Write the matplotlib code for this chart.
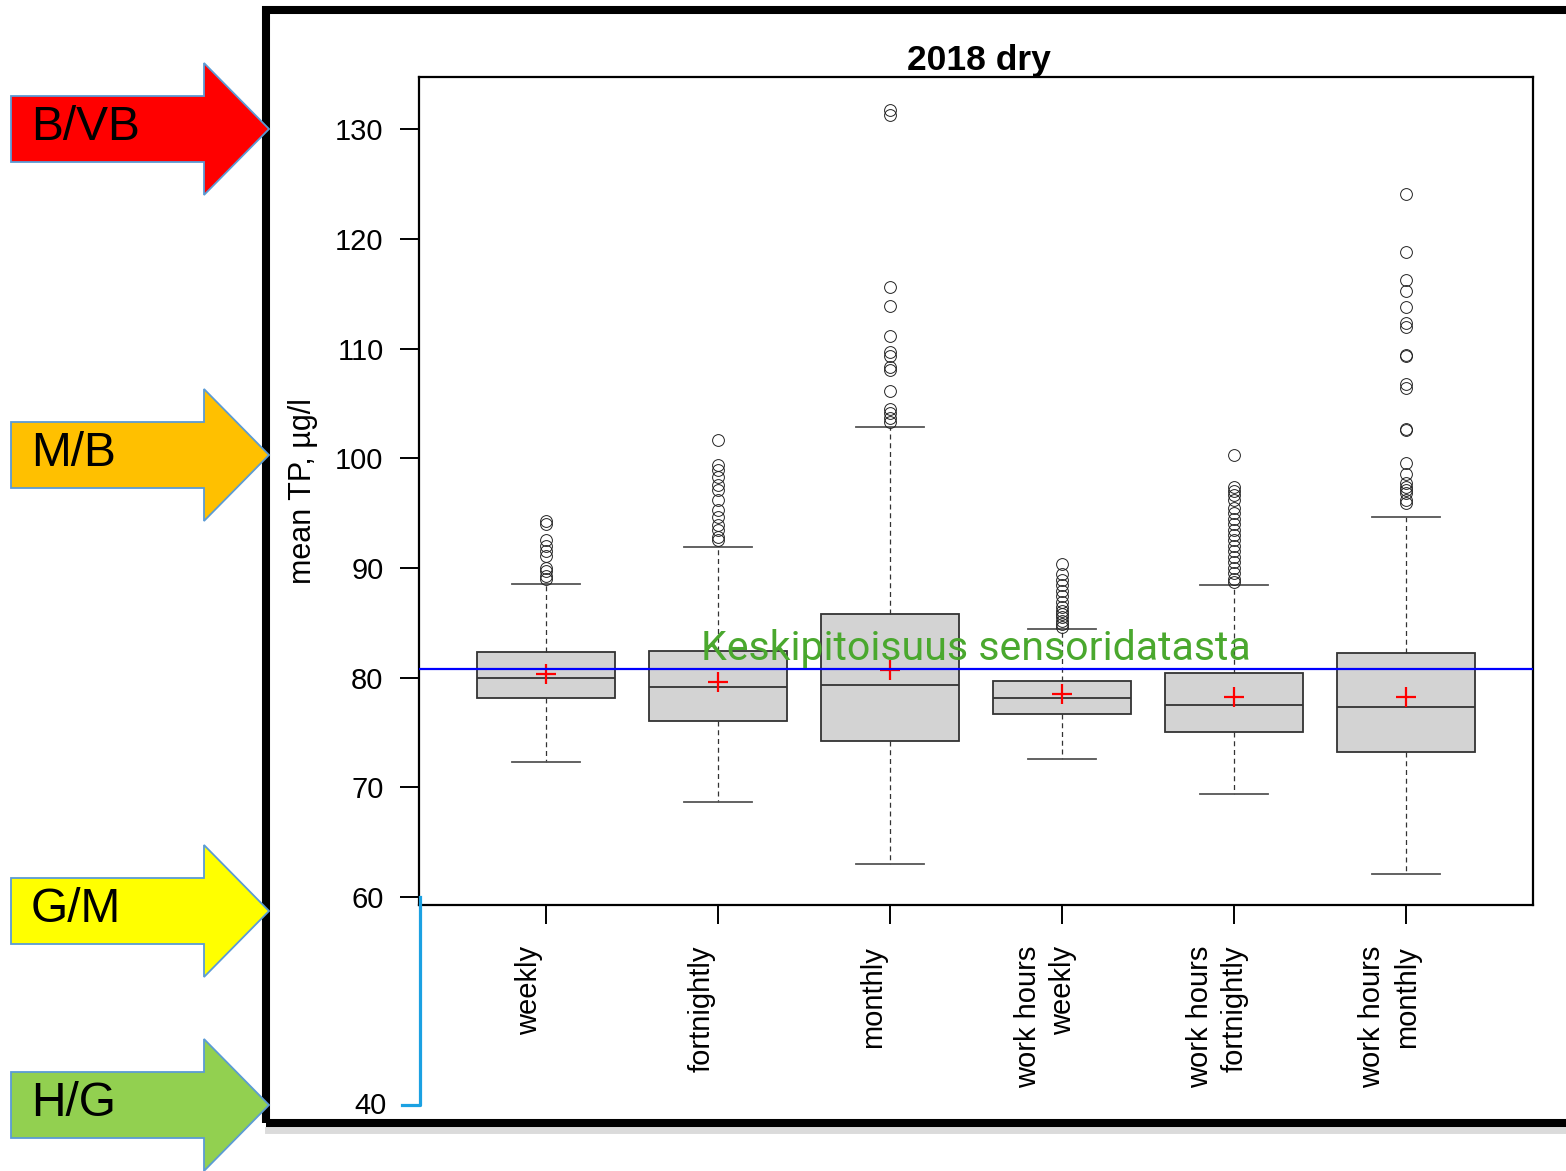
import matplotlib
matplotlib.use("Agg")
import matplotlib.pyplot as plt
import matplotlib.transforms as mtransforms
from matplotlib.patches import Polygon, Rectangle
from matplotlib.lines import Line2D

plt.rcParams["font.family"] = ["Liberation Sans", "DejaVu Sans"]

W, H = 1566, 1171

# box statistics, mean TP (µg/l), 2018 dry period
labels = ["weekly", "fortnightly", "monthly",
          "work hours\nweekly", "work hours\nfortnightly", "work hours\nmonthly"]
q1 = [78.1, 76.0, 74.2, 76.7, 75.0, 73.2]
medians = [80.0, 79.1, 79.3, 78.1, 77.5, 77.3]
q3 = [82.3, 82.4, 85.8, 79.7, 80.4, 82.2]
whis_lo = [72.3, 68.7, 63.0, 72.6, 69.4, 62.1]
whis_hi = [88.5, 91.9, 102.8, 84.4, 88.4, 94.6]
means = [80.3, 79.6, 80.7, 78.5, 78.2, 78.2]

fliers_weekly = [94.3, 94.0, 92.5, 92.0, 91.5, 91.1, 90.0, 89.7, 89.3, 89.0]
fliers_fortnightly = [101.7, 99.4, 98.9, 98.3, 97.6, 97.1, 96.2, 95.3, 94.6,
                      93.9, 93.5, 92.8, 92.5]
fliers_monthly = [131.7, 131.3, 115.6, 113.9, 111.1, 109.7, 109.3, 108.3,
                  108.0, 106.1, 104.5, 104.1, 103.7, 103.3]
fliers_wh_weekly = [90.4, 89.4, 88.9, 88.4, 87.9, 87.4, 86.9, 86.4, 86.1,
                    85.8, 85.5, 85.2, 84.9, 84.6]
fliers_wh_fortnightly = [100.3, 97.4, 97.0, 96.6, 96.2, 95.5, 95.0, 94.5,
                         94.0, 93.5, 93.0, 92.5, 92.0, 91.5, 91.0, 90.5,
                         90.0, 89.5, 89.0, 88.7]
fliers_wh_monthly = [124.1, 118.8, 116.2, 115.2, 113.8, 112.3, 112.0, 109.4,
                     109.3, 106.8, 106.4, 102.7, 102.6, 99.6, 98.6, 97.7,
                     97.4, 97.1, 96.8, 96.2, 95.9]
fliers = [fliers_weekly, fliers_fortnightly, fliers_monthly,
          fliers_wh_weekly, fliers_wh_fortnightly, fliers_wh_monthly]

sensor_mean = 80.8
yticks = [60, 70, 80, 90, 100, 110, 120, 130]

classes = ["B/VB", "M/B", "G/M", "H/G"]
class_colors = ["#ff0000", "#ffc000", "#ffff00", "#92d050"]
class_y = [129, 455, 911, 1105]   # arrow tip heights, pixels from top


def fx(x):
    return x / W


def fy(y):
    return 1 - y / H


fig = plt.figure(figsize=(W / 100, H / 100), dpi=100)
ax = fig.add_axes([fx(419), fy(905), fx(1533) - fx(419), fy(77) - fy(905)])

stats = []
for i in range(len(labels)):
    stats.append(dict(med=medians[i], q1=q1[i], q3=q3[i],
                      whislo=whis_lo[i], whishi=whis_hi[i],
                      mean=means[i], fliers=fliers[i], label=labels[i]))

positions = list(range(1, len(labels) + 1))
ax.bxp(stats, positions=positions, widths=0.8, patch_artist=True,
       showmeans=True, capwidths=0.4,
       boxprops=dict(facecolor="#d3d3d3", edgecolor="#333333", linewidth=1.3),
       medianprops=dict(color="#333333", linewidth=1.3),
       whiskerprops=dict(color="#333333", linewidth=0.9, linestyle=(0, (4, 3))),
       capprops=dict(color="#555555", linewidth=1.3),
       meanprops=dict(marker="+", markeredgecolor="red", markersize=15,
                      markeredgewidth=1.6),
       flierprops=dict(marker="o", markerfacecolor="none",
                       markeredgecolor="#222222", markersize=8.5,
                       markeredgewidth=0.7))

ax.axhline(sensor_mean, color="#0000ff", linewidth=1.6, zorder=4)
ax.text(3.5, 81.6, "Keskipitoisuus sensoridatasta", color="#4aa82e",
        fontsize=29.6, ha="center", va="baseline",
        family=["Roboto", "DejaVu Sans"], zorder=5)

ax.set_xlim(0.262, 6.738)
ax.set_ylim(59.27, 134.75)
ax.set_yticks(yticks)
ax.set_xticks(positions)
ax.set_xticklabels(labels, rotation=90, ha="center", va="top",
                   multialignment="right", linespacing=1.3)
ax.tick_params(axis="both", labelsize=21, length=13.5, width=1.4)
ax.tick_params(axis="y", pad=12)
ax.tick_params(axis="x", pad=16)
shift = mtransforms.ScaledTranslation(-12 / 72, 0, fig.dpi_scale_trans)
for lab in ax.get_xticklabels():
    lab.set_transform(lab.get_transform() + shift)
for sp in ax.spines.values():
    sp.set_linewidth(1.6)
ax.set_ylabel("mean TP, µg/l", fontsize=22, labelpad=12)
ax.set_title("2018 dry", fontsize=25.5, fontweight="bold", pad=-4, x=0.503)

# extended scale down to 40
fig.add_artist(Line2D([fx(420), fx(420), fx(402)], [fy(897), fy(1105), fy(1105)],
                      color="#1ba1e2", linewidth=2.3))
fig.text(fx(387), fy(1106), "40", fontsize=21, ha="right", va="center")

# outer frame with soft shadow
fig.add_artist(Line2D([fx(268), fx(1700)], [fy(1130), fy(1130)],
                      color="#999999", linewidth=5, alpha=0.35))
fig.add_artist(Rectangle((fx(266), fy(1123)), fx(1700) - fx(266),
                         fy(10) - fy(1123), transform=fig.transFigure,
                         fill=False, edgecolor="black", linewidth=5.8))

# class arrows
for name, col, yc in zip(classes, class_colors, class_y):
    pts = [(11, yc - 33), (204, yc - 33), (204, yc - 66), (269, yc),
           (204, yc + 66), (204, yc + 33), (11, yc + 33)]
    poly = Polygon([(fx(x), fy(y)) for x, y in pts], closed=True,
                   transform=fig.transFigure, facecolor=col,
                   edgecolor="#5b9bd5", linewidth=1.3, zorder=10)
    fig.add_artist(poly)
    fig.text(fx(31), fy(yc - 2), name, fontsize=34.5, ha="left", va="center",
             zorder=11)

fig.savefig("out.png", dpi=100)
